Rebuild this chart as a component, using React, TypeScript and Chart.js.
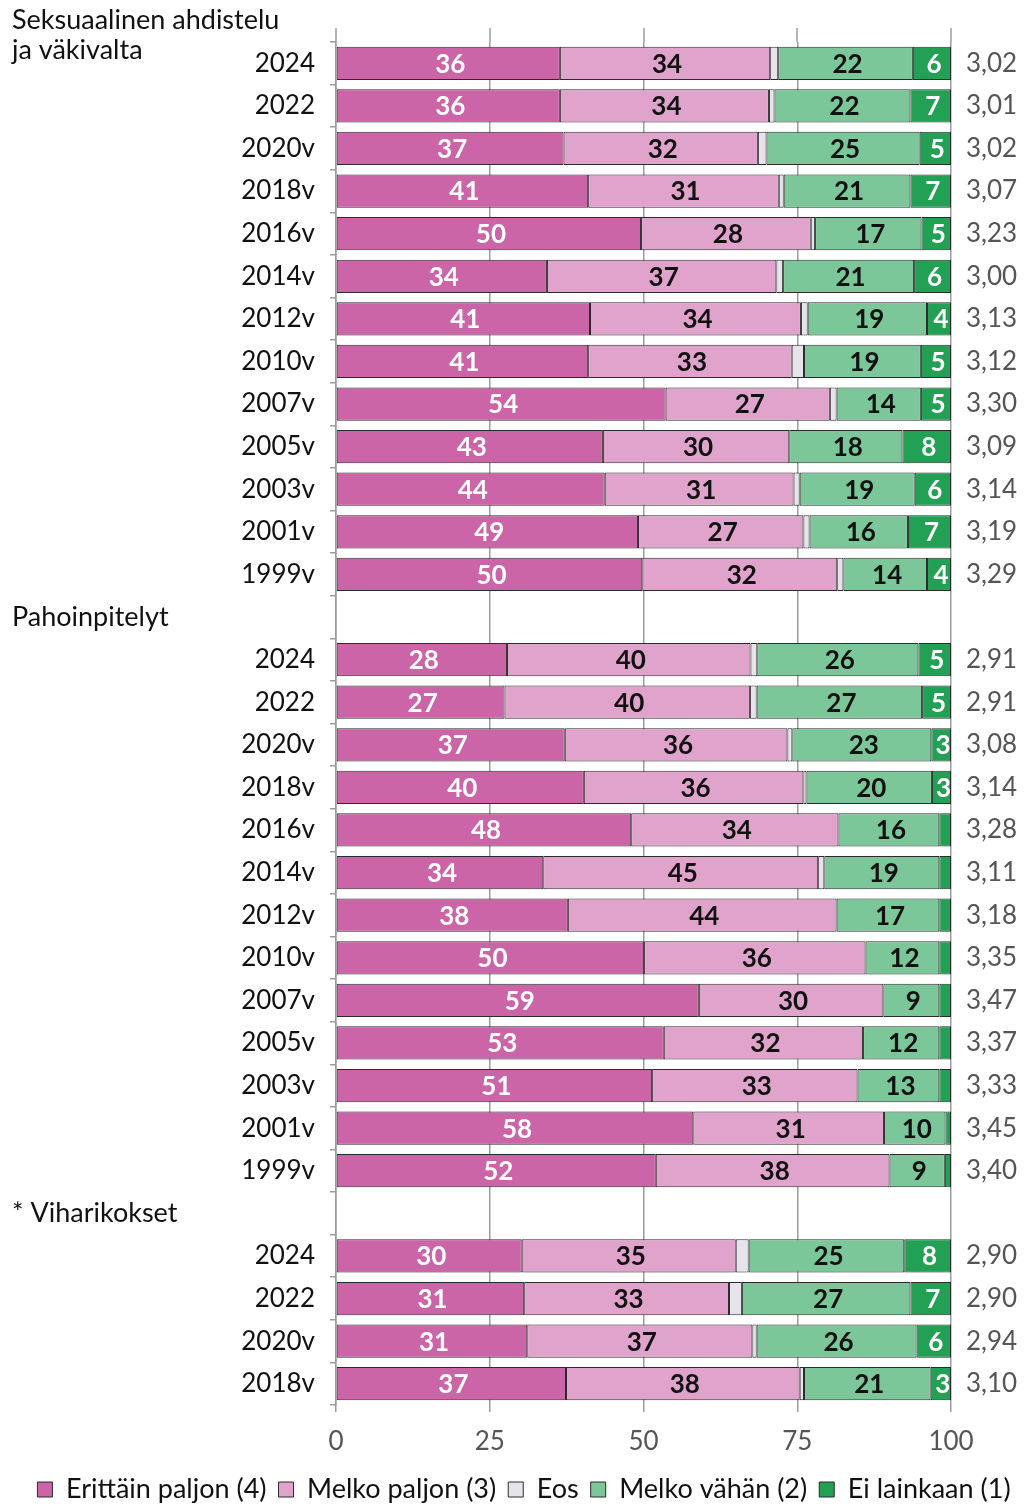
import React, { useEffect, useRef } from 'react';
import { Chart, registerables } from 'chart.js';

Chart.register(...registerables);

// ---- data ----
const categories = [
  '2024', '2022', '2020v', '2018v', '2016v', '2014v', '2012v', '2010v', '2007v', '2005v', '2003v', '2001v', '1999v',
  '',
  '2024', '2022', '2020v', '2018v', '2016v', '2014v', '2012v', '2010v', '2007v', '2005v', '2003v', '2001v', '1999v',
  '',
  '2024', '2022', '2020v', '2018v',
];

const meanLabels = [
  '3,02', '3,01', '3,02', '3,07', '3,23', '3,00', '3,13', '3,12', '3,30', '3,09', '3,14', '3,19', '3,29',
  '',
  '2,91', '2,91', '3,08', '3,14', '3,28', '3,11', '3,18', '3,35', '3,47', '3,37', '3,33', '3,45', '3,40',
  '',
  '2,90', '2,90', '2,94', '3,10',
];

const seriesNames = ['Erittäin paljon (4)', 'Melko paljon (3)', 'Eos', 'Melko vähän (2)', 'Ei lainkaan (1)'];

const erittainPaljon = [
  36.4, 36.4, 37.0, 41.0, 49.6, 34.3, 41.3, 41.0, 53.6, 43.4, 43.7, 49.1, 49.8,
  null,
  27.8, 27.4, 37.2, 40.3, 48.0, 33.7, 37.7, 50.1, 59.0, 53.3, 51.4, 58.1, 52.0,
  null,
  30.2, 30.6, 31.1, 37.4,
];
const melkoPaljon = [
  34.2, 34.0, 31.6, 31.0, 27.6, 37.3, 34.3, 33.1, 26.7, 30.3, 30.7, 26.9, 31.7,
  null,
  39.6, 39.9, 36.2, 35.7, 33.7, 44.7, 43.7, 36.0, 30.0, 32.4, 33.4, 31.0, 38.0,
  null,
  34.8, 33.3, 36.6, 38.0,
];
const eos = [
  1.3, 0.9, 1.4, 0.8, 0.7, 1.1, 1.1, 2.0, 1.1, 0, 1.0, 1.0, 1.0,
  null,
  1.1, 1.1, 0.8, 0.5, 0, 1.0, 0, 0, 0, 0, 0, 0, 0,
  null,
  2.1, 2.1, 0.7, 0.7,
];
const melkoVahan = [
  21.9, 22.1, 24.9, 20.6, 17.3, 21.3, 19.4, 19.0, 13.7, 18.4, 18.7, 16.0, 13.6,
  null,
  26.2, 26.9, 22.6, 20.4, 16.4, 18.7, 16.7, 12.0, 9.1, 12.4, 13.3, 10.0, 9.0,
  null,
  25.3, 27.4, 26.0, 20.6,
];
const eiLainkaan = [
  6.2, 6.6, 5.1, 6.6, 4.8, 6.0, 3.9, 4.9, 4.9, 7.9, 5.9, 7.0, 3.9,
  null,
  5.3, 4.7, 3.2, 3.1, 1.9, 1.9, 1.9, 1.9, 1.9, 1.9, 1.9, 0.9, 1.0,
  null,
  7.6, 6.6, 5.6, 3.3,
];

const groupHeaders = [['Seksuaalinen ahdistelu', 'ja väkivalta'], ['Pahoinpitelyt'], ['* Viharikokset']];
const headerRows = [-1, 13, 27];
const xTicks = [0, 25, 50, 75, 100];

// ---- styles ----
const FONT = 'Lato';
const colors = ['#cc64a8', '#e0a4cc', '#e6e4ea', '#7bc79a', '#22a155'];
const labelColors = ['#ffffff', '#111111', null, '#111111', '#ffffff'];
const GRID = '#9c9c9c';

const seriesData = [erittainPaljon, melkoPaljon, eos, melkoVahan, eiLainkaan];

const valueLabelPlugin = {
  id: 'valueLabels',
  afterDatasetsDraw(chart: any) {
    const ctx = chart.ctx;
    ctx.save();
    ctx.font = `bold 26px ${FONT}`;
    ctx.textAlign = 'center';
    ctx.textBaseline = 'middle';
    chart.data.datasets.forEach((ds: any, di: number) => {
      const color = labelColors[di];
      if (!color) return;
      const meta = chart.getDatasetMeta(di);
      meta.data.forEach((el: any, i: number) => {
        const v = ds.data[i];
        if (v == null) return;
        const r = Math.round(v);
        if (r < 3) return;
        const { x, base, y } = el.getProps(['x', 'base', 'y'], true);
        ctx.fillStyle = color;
        ctx.fillText(String(r), (x + base) / 2 + 2, y + 1);
      });
    });
    ctx.restore();
  },
};

const headerPlugin = {
  id: 'groupHeaders',
  afterDraw(chart: any) {
    const ctx = chart.ctx;
    const ys = chart.scales.y;
    const p0 = ys.getPixelForValue(0);
    const band = ys.getPixelForValue(1) - p0;
    ctx.save();
    ctx.font = `27px ${FONT}`;
    ctx.fillStyle = '#111111';
    ctx.textAlign = 'left';
    ctx.textBaseline = 'middle';
    headerRows.forEach((row, gi) => {
      const cy = p0 + row * band;
      groupHeaders[gi].forEach((line, li) => {
        ctx.fillText(line, 12, cy + li * 30);
      });
    });
    ctx.restore();
  },
};

const gridTopPlugin = {
  id: 'gridTop',
  beforeDatasetsDraw(chart: any) {
    const ctx = chart.ctx;
    const xs = chart.scales.x;
    const top = chart.chartArea.top;
    ctx.save();
    ctx.strokeStyle = GRID;
    ctx.lineWidth = 1.5;
    xTicks.forEach((t) => {
      const px = Math.round(xs.getPixelForValue(t));
      ctx.beginPath();
      ctx.moveTo(px, top - 14);
      ctx.lineTo(px, top);
      ctx.stroke();
    });
    ctx.restore();
  },
};

export default function App() {
  const ref = useRef<HTMLCanvasElement | null>(null);

  useEffect(() => {
    if (!ref.current) return;
    Chart.defaults.font.family = FONT;
    const chart = new Chart(ref.current, {
      type: 'bar',
      data: {
        labels: categories,
        datasets: seriesNames.map((name, i) => ({
          label: name,
          data: seriesData[i].map((v) => (v === 0 ? null : v)),
          backgroundColor: colors[i],
          borderColor: '#2b2b2b',
          borderWidth: 1,
          borderSkipped: false,
          barPercentage: 0.78,
          categoryPercentage: 1,
          xAxisID: 'x',
          yAxisID: 'y',
        })),
      },
      options: {
        indexAxis: 'y',
        responsive: false,
        animation: false,
        devicePixelRatio: 1,
        layout: { padding: { top: 42, left: 24, right: 0, bottom: -9 } },
        scales: {
          x: {
            type: 'linear',
            stacked: true,
            min: 0,
            max: 100,
            position: 'bottom',
            ticks: { stepSize: 25, color: '#555555', font: { size: 26 }, padding: 14 },
            grid: { color: GRID, lineWidth: 1.5, tickLength: 7, drawTicks: true },
            border: { display: false },
            afterFit: (s: any) => {
              s.height = 59;
            },
          },
          y: {
            type: 'category',
            stacked: true,
            position: 'left',
            ticks: { autoSkip: false, color: '#111111', font: { size: 26 }, padding: 15 },
            grid: { drawOnChartArea: false, drawTicks: true, tickLength: 6, color: GRID, lineWidth: 1.5 },
            border: { display: true, color: GRID, width: 1.5 },
            afterFit: (s: any) => {
              s.width = 312;
            },
          },
          y2: {
            type: 'category',
            position: 'right',
            labels: meanLabels,
            offset: true,
            ticks: { autoSkip: false, color: '#555555', font: { size: 26 }, padding: 15 },
            grid: { display: false, drawTicks: false },
            border: { display: false },
            afterFit: (s: any) => {
              s.width = 73;
            },
          },
        } as any,
        plugins: {
          legend: {
            position: 'bottom',
            labels: {
              boxWidth: 15,
              boxHeight: 15,
              padding: 12,
              color: '#111111',
              font: { size: 27 },
            },
          },
          tooltip: { enabled: false },
        },
      },
      plugins: [valueLabelPlugin, headerPlugin, gridTopPlugin],
    } as any);
    return () => chart.destroy();
  }, []);

  return (
    <div style={{ position: 'absolute', left: 0, top: 0, width: 1024, height: 1504, background: '#ffffff' }}>
      <canvas ref={ref} width={1024} height={1504} style={{ display: 'block' }} />
    </div>
  );
}
